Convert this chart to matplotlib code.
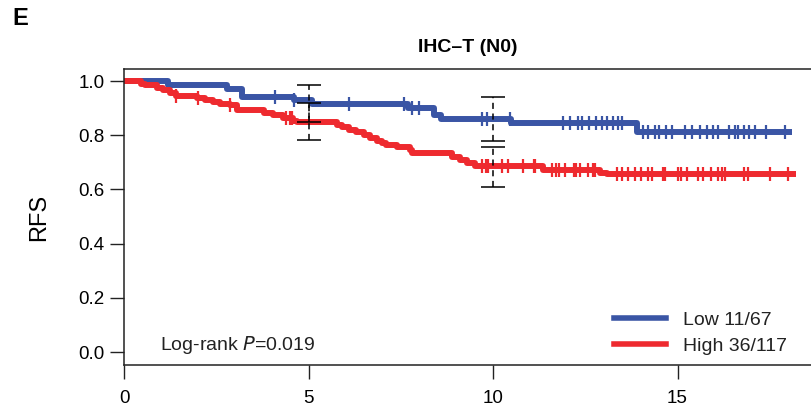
import numpy as np
import matplotlib
matplotlib.use('Agg')
import matplotlib.pyplot as plt
from matplotlib.lines import Line2D

plt.rcParams['font.family'] = ['Liberation Sans', 'DejaVu Sans']

# Kaplan-Meier steps (time in years, survival)
low_times = [0, 1.2, 2.8, 3.2, 4.6, 5.1, 7.7, 8.4, 8.6, 10.5, 13.9]
low_surv = [1.0, 0.985, 0.97, 0.94, 0.93, 0.915, 0.90, 0.875, 0.86, 0.845, 0.81]
low_end = 18.1
low_censor = [4.1, 4.6, 6.1, 7.6, 7.8, 8.0, 9.7, 9.85, 10.46, 11.9, 12.1, 12.3,
              12.4, 12.6, 12.8, 12.95, 13.1, 13.25, 13.4, 13.5, 14.07, 14.2,
              14.4, 14.5, 14.7, 14.85, 15.2, 15.4, 15.6, 15.8, 15.95, 16.1,
              16.4, 16.55, 16.65, 16.8, 16.95, 17.1, 17.4, 17.9]

high_times = [0, 0.45, 0.57, 0.9, 1.05, 1.25, 1.4, 1.98, 2.2, 2.4,
              2.6, 2.87, 3.06, 3.8, 4.04, 4.3, 4.58, 4.7, 5.77, 5.9,
              6.1, 6.3, 6.5, 6.67, 6.85, 7.0, 7.1, 7.4, 7.75, 7.8,
              8.9, 9.1, 9.3, 9.5, 11.35, 12.9, 13.1]
high_surv = [1.0, 0.99, 0.985, 0.975, 0.967, 0.955, 0.945, 0.937, 0.93, 0.923,
             0.915, 0.91, 0.893, 0.882, 0.875, 0.864, 0.853, 0.849, 0.838, 0.83,
             0.82, 0.81, 0.80, 0.79, 0.78, 0.772, 0.765, 0.757, 0.746, 0.735,
             0.72, 0.71, 0.698, 0.685, 0.673, 0.66, 0.655]
high_end = 18.2
high_censor = [1.4, 2.0, 2.87, 4.4, 4.5, 4.55, 9.7, 9.8, 9.87, 10.25, 10.4,
               10.8, 11.1, 11.15, 11.6, 11.7, 11.8, 11.95, 12.2, 12.25, 12.36,
               12.57, 12.7, 12.76, 13.35, 13.5, 13.66, 13.85, 14.0, 14.2, 14.3,
               14.6, 14.66, 15.0, 15.1, 15.25, 15.55, 15.7, 15.9, 16.1, 16.2,
               16.3, 16.8, 16.9, 17.5, 18.0]

# confidence intervals at 5 and 10 years
ci_times = [5, 10]
low_ci_lo = [0.848, 0.779]
low_ci_hi = [0.986, 0.94]
high_ci_lo = [0.782, 0.608]
high_ci_hi = [0.917, 0.756]

labels = ['Low 11/67', 'High 36/117']
blue = '#3a55a5'
red = '#ee2a2f'


def step_value(times, surv, t):
    idx = np.searchsorted(times, t, side='right') - 1
    return np.array(surv)[idx]


def km_curve(ax, times, surv, end, censor, color):
    x = list(times) + [end]
    y = list(surv) + [surv[-1]]
    ax.step(x, y, where='post', color=color, lw=4.3, solid_capstyle='butt')
    ax.plot(censor, step_value(times, surv, censor), ls='none', marker='|',
            ms=10, mew=1.6, color=color)


fig = plt.figure(figsize=(8.11, 4.11), dpi=100)
ax = fig.add_axes([124 / 811, 46 / 411, 1 - 124 / 811, 296 / 411])

km_curve(ax, low_times, low_surv, low_end, low_censor, blue)
km_curve(ax, high_times, high_surv, high_end, high_censor, red)

for lo, hi in [(low_ci_lo, low_ci_hi), (high_ci_lo, high_ci_hi)]:
    lo = np.array(lo)
    hi = np.array(hi)
    mid = (lo + hi) / 2
    eb = ax.errorbar(ci_times, mid, yerr=[mid - lo, hi - mid], fmt='none',
                     ecolor='black', elinewidth=1.1, capsize=8.3, capthick=1.1)
    eb[2][0].set_linestyle((0, (4, 3)))

ax.set_xlim(0, (811 - 124) / 36.9)
ax.set_ylim(-13 / 271, 1 + 12 / 271)
ax.set_xticks([0, 5, 10, 15])
ax.set_yticks([0.0, 0.2, 0.4, 0.6, 0.8, 1.0])
ax.set_yticklabels(['0.0', '0.2', '0.4', '0.6', '0.8', '1.0'])
ax.tick_params(axis='both', labelsize=13.5, length=10, width=1, color='#222222')
ax.tick_params(axis='x', pad=8)
ax.tick_params(axis='y', pad=4)
ax.spines['right'].set_visible(False)
for s in ['left', 'top', 'bottom']:
    ax.spines[s].set_linewidth(1.1)
    ax.spines[s].set_color('#222222')

ax.set_ylabel('RFS', fontsize=17, labelpad=20)
ax.set_title('IHC\u2013T (N0)', fontsize=14, fontweight='bold', pad=12)
fig.text(0.015, 0.955, 'E', fontsize=17, fontweight='bold', va='center')

ax.text(36 / 687, 0.068, 'Log-rank $\\it{P}$=0.019', transform=ax.transAxes,
        fontsize=14, va='center', color='#222222')

handles = [Line2D([], [], color=blue, lw=4), Line2D([], [], color=red, lw=4)]
leg = ax.legend(handles, labels, loc='lower right', bbox_to_anchor=(0.99, -0.025),
                frameon=False, fontsize=14, handlelength=2.67, handletextpad=0.85,
                labelspacing=0.45)
for t in leg.get_texts():
    t.set_color('#222222')

fig.savefig('out.png', dpi=100)
